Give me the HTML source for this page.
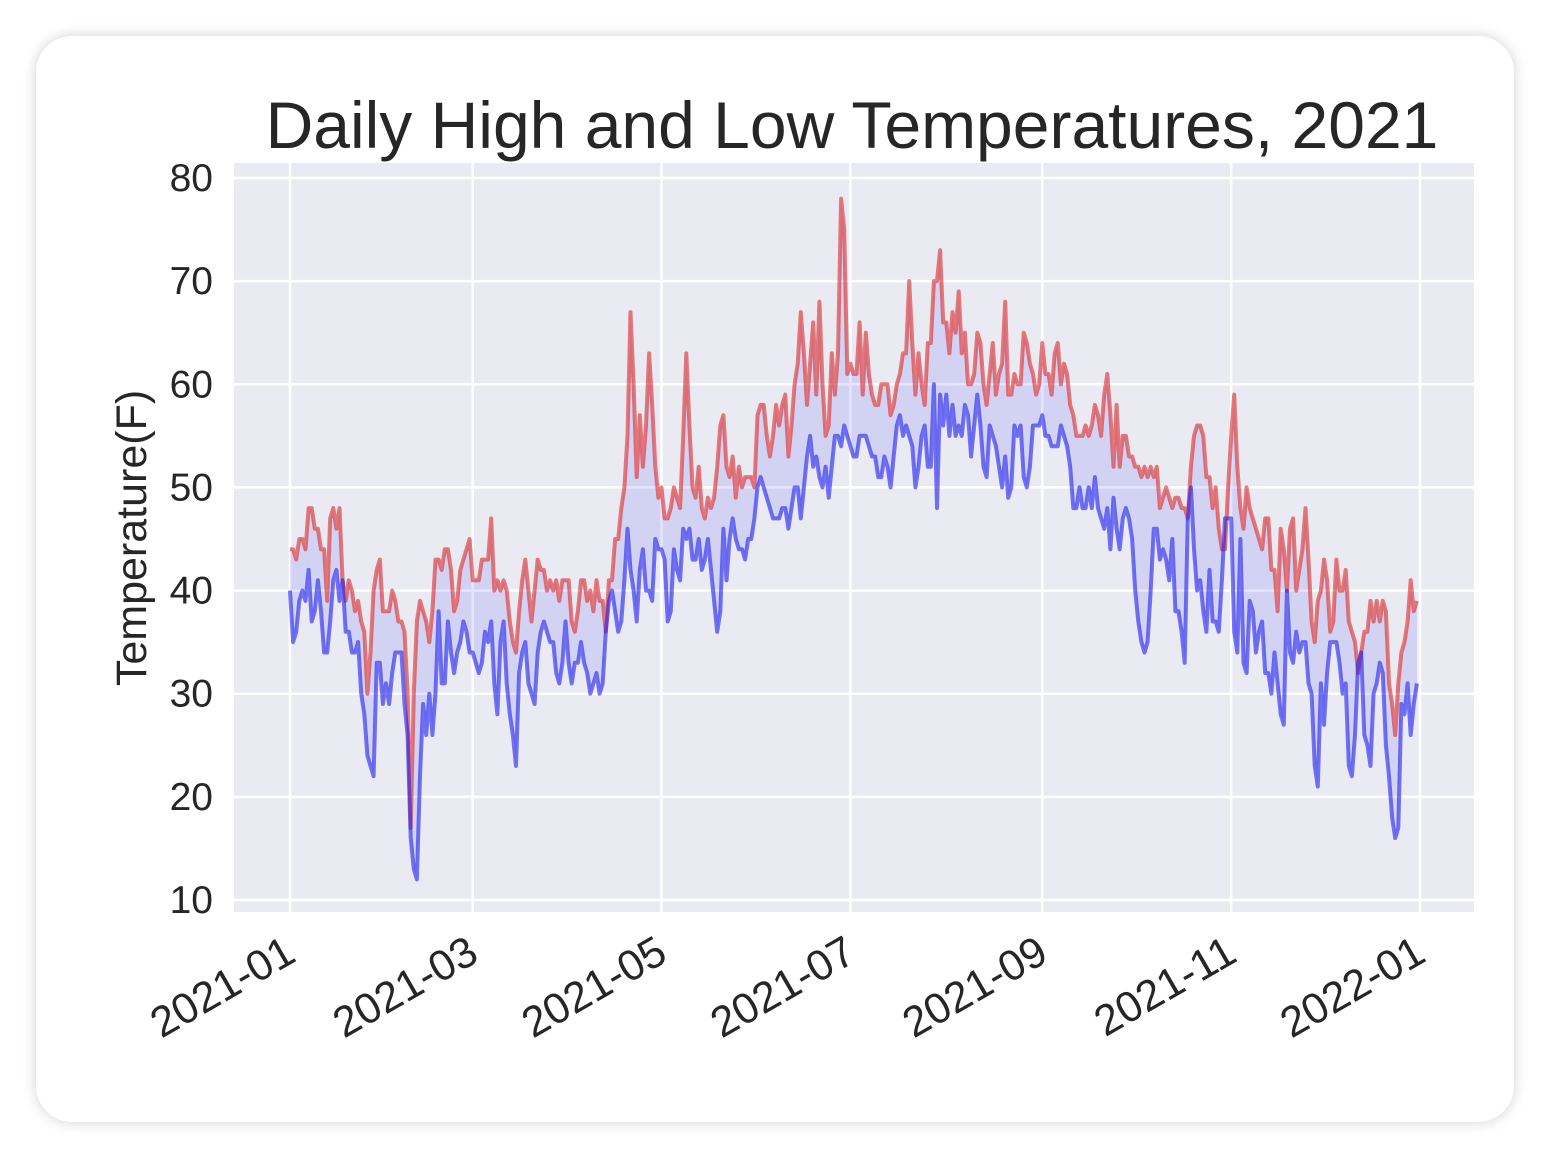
<!DOCTYPE html>
<html><head><meta charset="utf-8"><style>
body{margin:0;background:#fff;width:1550px;height:1158px;overflow:hidden;font-family:"Liberation Sans",sans-serif;}
#card{position:absolute;left:36px;top:36px;width:1478px;height:1086px;background:#fff;border-radius:36px;box-shadow:0 0 14px rgba(0,0,0,0.18);}
svg{position:absolute;left:0;top:0;}
</style></head><body>
<div id="card"></div>
<svg id="chart" width="1550" height="1158"></svg>
<script>
const highs=[44,44,43,45,45,44,48,48,46,46,44,44,39,47,48,46,48,41,39,41,40,38,39,37,36,30,34,40,42,43,38,
38,38,40,39,37,37,36,30,17,30,37,39,38,37,35,38,43,43,42,44,44,42,38,39,42,43,44,45,
41,41,41,43,43,43,47,40,41,40,41,40,37,35,34,38,41,43,40,37,40,43,42,42,40,41,40,41,39,41,41,
41,37,36,38,41,41,39,40,38,41,39,39,36,41,41,45,45,48,50,55,67,60,51,57,52,56,63,58,52,49,
50,47,47,48,50,49,48,55,63,56,50,49,52,48,47,49,48,49,52,56,57,52,51,53,49,52,50,51,51,51,50,
57,58,58,55,53,55,58,56,58,59,53,56,60,62,67,63,58,62,66,59,68,60,55,56,63,59,63,78,75,61,
62,61,61,66,59,65,61,59,58,58,60,60,60,57,58,60,61,63,63,70,64,59,63,60,58,64,64,70,70,73,66,
66,63,67,65,69,63,65,60,60,61,65,64,60,58,61,64,59,61,62,68,59,59,61,60,60,65,64,62,61,59,60,
64,61,61,59,63,64,60,62,61,58,57,55,55,55,56,55,56,58,57,55,59,61,57,52,58,52,55,55,53,53,
52,52,51,52,51,52,51,52,48,49,50,49,48,49,49,48,48,47,52,55,56,56,55,51,51,48,50,46,44,44,50,
55,59,52,48,46,50,48,47,46,45,44,47,47,42,42,38,46,44,40,46,47,40,42,44,48,43,37,35,39,40,
43,41,36,37,43,40,40,42,37,36,35,32,34,36,36,39,37,39,37,39,38,31,29,26,31,34,35,37,41,38,39];
const lows=[40,35,36,39,40,39,42,37,38,41,38,34,34,37,41,42,39,41,36,36,34,34,35,30,28,24,23,22,33,33,29,
31,29,32,34,34,34,29,26,16,13,12,22,29,26,30,26,30,38,31,31,37,34,32,34,35,37,36,34,
34,33,32,33,36,35,37,31,28,35,37,31,28,26,23,32,34,35,31,30,29,34,36,37,36,35,35,32,31,33,37,
33,31,33,33,35,33,32,30,31,32,30,31,36,39,40,38,36,37,41,46,42,40,37,42,44,40,40,39,45,44,
44,43,37,38,44,42,41,46,45,46,43,43,45,42,43,45,42,39,36,38,46,41,45,47,45,44,44,43,45,45,47,
50,51,50,49,48,47,47,47,48,48,46,48,50,50,47,50,53,55,52,53,51,50,52,49,52,55,55,54,56,55,
54,53,53,55,55,55,54,53,53,51,51,53,52,50,53,56,57,55,56,55,54,50,52,55,56,52,52,60,48,59,56,
59,55,58,55,56,55,58,57,53,56,59,56,52,51,56,55,54,52,50,53,49,50,56,55,56,51,50,52,56,56,56,
57,55,55,54,54,54,56,55,54,52,48,48,50,48,48,50,48,51,48,47,46,48,44,49,46,44,47,48,47,45,
40,37,35,34,35,40,46,46,43,44,43,41,45,38,38,36,33,47,50,44,40,41,38,36,42,37,37,36,41,47,47,
47,36,34,45,33,32,39,38,34,36,37,32,32,30,34,31,28,27,40,34,33,36,34,35,35,31,30,23,21,31,
27,32,35,35,35,33,30,31,23,22,26,33,34,26,25,23,30,31,33,32,25,22,18,16,17,29,28,31,26,29,31];
const yTicks=[10,20,30,40,50,60,70,80];
const xTickLabels=["2021-01","2021-03","2021-05","2021-07","2021-09","2021-11","2022-01"];
const xTickDays=[0,59,120,181,243,304,365];

const NS="http://www.w3.org/2000/svg";
const svg=document.getElementById('chart');
const PX0=234,PX1=1474,PY0=163,PY1=912;
const xs=d=>290+d*(1130/365);
const ys=v=>178+(80-v)*(722/70);
function mk(t,a,p){const e=document.createElementNS(NS,t);for(const k in a)e.setAttribute(k,a[k]);(p||svg).appendChild(e);return e;}

const bg=mk('rect',{x:PX0,y:PY0,width:PX1-PX0,height:PY1-PY0,fill:'#eaeaf2'});


yTicks.forEach(v=>{
  const l=mk('line',{x1:PX0,x2:PX1,y1:ys(v),y2:ys(v),stroke:'#fff','stroke-width':2.5});
  
  
  const t=mk('text',{x:213,y:ys(v)+13,'text-anchor':'end','font-size':39,fill:'#262626'});
  t.textContent=v;
  
  
});
xTickDays.forEach((d,i)=>{
  const x=xs(d);
  const l=mk('line',{x1:x,x2:x,y1:PY0,y2:PY1,stroke:'#fff','stroke-width':2.5});
  
  
  const t=mk('text',{x:0,y:0,'text-anchor':'end','font-size':43,fill:'#262626',transform:`translate(${x+8},${960}) rotate(-30)`});
  t.textContent=xTickLabels[i];
  
  
});
const hx=i=>xs(i*364/(highs.length-1)), lx=i=>xs(i*364/(lows.length-1));
let fp='M'+highs.map((v,i)=>hx(i).toFixed(1)+','+ys(v).toFixed(1)).join('L');
for(let i=lows.length-1;i>=0;i--)fp+='L'+lx(i).toFixed(1)+','+ys(lows[i]).toFixed(1);
const fill=mk('path',{d:fp+'Z',fill:'rgba(0,0,255,0.1)'});


const hl=mk('polyline',{points:highs.map((v,i)=>hx(i).toFixed(1)+','+ys(v).toFixed(1)).join(' '),fill:'none',stroke:'rgba(220,40,40,0.6)','stroke-width':4,'stroke-linejoin':'round'});


const ll=mk('polyline',{points:lows.map((v,i)=>lx(i).toFixed(1)+','+ys(v).toFixed(1)).join(' '),fill:'none',stroke:'rgba(30,30,240,0.6)','stroke-width':4,'stroke-linejoin':'round'});


const title=mk('text',{x:852,y:148,'text-anchor':'middle','font-size':66,fill:'#262626'});
title.textContent='Daily High and Low Temperatures, 2021';


const yl=mk('text',{x:0,y:0,'text-anchor':'middle','font-size':43,fill:'#262626',transform:'translate(146,538) rotate(-90)'});
yl.textContent='Temperature(F)';


</script>
</body></html>
